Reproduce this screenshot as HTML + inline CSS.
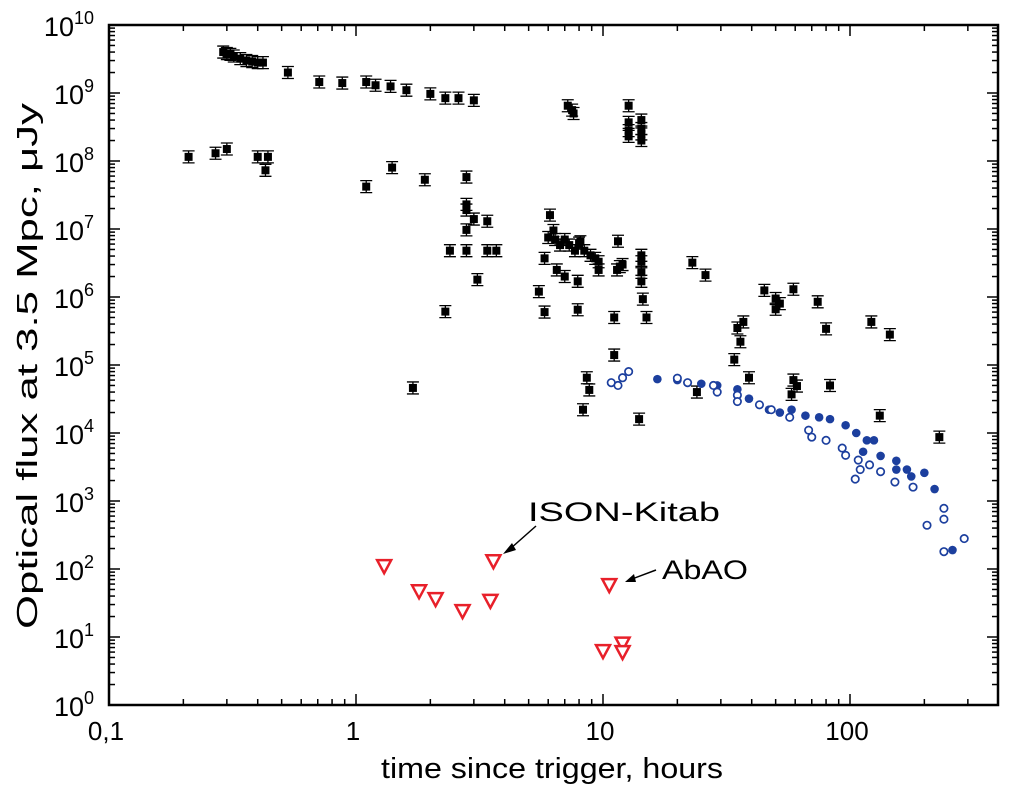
<!DOCTYPE html>
<html><head><meta charset="utf-8"><style>
body{margin:0;background:#fff;}
svg text{font-family:"Liberation Sans",sans-serif;}
</style></head><body>
<svg id="chart" width="1010" height="791" viewBox="0 0 1010 791" xmlns="http://www.w3.org/2000/svg">
<g id="ticks"></g>
<g id="marks"></g>
<rect x="109" y="25" width="889" height="680" fill="none" stroke="#000" stroke-width="2.5"/>
<text transform="translate(37,366) rotate(-90)" text-anchor="middle" font-size="29" textLength="526" lengthAdjust="spacingAndGlyphs">Optical flux at 3.5 Mpc, μJy</text>
<text x="552" y="778" text-anchor="middle" font-size="29" textLength="342" lengthAdjust="spacingAndGlyphs">time since trigger, hours</text>
<text x="528" y="521" font-size="27" textLength="192" lengthAdjust="spacingAndGlyphs">ISON-Kitab</text>
<line x1="536" y1="526" x2="510" y2="549" stroke="#000" stroke-width="1.5"/>
<polygon points="503,554 512,543 516,550" fill="#000"/>
<text x="662" y="579" font-size="27" textLength="86" lengthAdjust="spacingAndGlyphs">AbAO</text>
<line x1="656" y1="570" x2="632" y2="579" stroke="#000" stroke-width="1.5"/>
<polygon points="625,582 634,574 636,582" fill="#000"/>
</svg>
<script>
const xTickValues=[0.1,1,10,100];
const xTickLabels=["0,1","1","10","100"];
const yTickExps=[0,1,2,3,4,5,6,7,8,9,10];
const blackT=[0.29,0.3,0.31,0.32,0.34,0.36,0.38,0.4,0.42,0.53,0.71,0.88,1.1,1.2,1.38,1.6,2,2.3,2.6,3,7.2,7.5,7.6,12.7,12.7,12.7,12.7,14.3,14.3,14.3,14.3,
0.21,0.27,0.3,0.4,0.44,0.43,1.1,1.4,1.9,2.8,2.8,2.8,2.8,3,3.4,3.1,2.4,2.8,3.4,3.7,2.3,1.7,
6.1,6.3,6,6.4,6.7,7,7.3,7.7,8,8.4,8.9,9.3,9.6,5.8,6.5,7,7.9,9.6,5.8,7.9,8.1,5.5,11.5,11.4,12,11.7,11.1,11.1,
14.3,14.3,14.3,14.3,14.5,15,8.6,8.3,8.8,14,
23,26,24,37,36,34,35,39,45,50,52,50,59,59,61,58,74,80,83,122,145,132,230];
const blackF=[4e9,3.8e9,3.7e9,3.5e9,3.2e9,3e9,2.9e9,2.8e9,2.8e9,2e9,1.45e9,1.4e9,1.45e9,1.3e9,1.25e9,1.1e9,9.7e8,8.4e8,8.4e8,7.8e8,6.5e8,5.6e8,5e8,6.5e8,3.7e8,2.8e8,2.3e8,4e8,3e8,2.5e8,2e8,
1.15e8,1.3e8,1.5e8,1.15e8,1.15e8,7.3e7,4.2e7,8e7,5.3e7,5.8e7,2.3e7,1.9e7,9.7e6,1.4e7,1.3e7,1.8e6,4.8e6,4.8e6,4.8e6,4.8e6,6.1e5,4.6e4,
1.6e7,9.5e6,7.5e6,7e6,5.8e6,7e6,5.8e6,4.8e6,6.2e6,4.8e6,4.1e6,3.7e6,3.3e6,3.7e6,2.5e6,2e6,1.7e6,2.5e6,6e5,6.5e5,6.5e6,1.2e6,6.6e6,2.5e6,3e6,2.8e6,5e5,1.4e5,
4.1e6,3.3e6,2.3e6,1.7e6,9.3e5,5e5,6.5e4,2.2e4,4.3e4,1.6e4,
3.2e6,2.1e6,4e4,4.3e5,2.2e5,1.2e5,3.5e5,6.5e4,1.25e6,9.5e5,8e5,6.6e5,1.3e6,6e4,4.9e4,3.7e4,8.5e5,3.4e5,5e4,4.3e5,2.8e5,1.8e4,8.7e3];
const blueFilledT=[16.6,20,25,29,35,39,47,52,58,66,75,83,96,106,117,125,113,133,154,170,200,220,260,177,154];
const blueFilledF=[6.2e4,6e4,5.3e4,5e4,4.4e4,3.2e4,2.2e4,2e4,2.2e4,1.8e4,1.7e4,1.6e4,1.3e4,1e4,7.8e3,7.8e3,5.3e3,4.6e3,3.9e3,2.9e3,2.6e3,1.5e3,1.9e2,2.3e3,2.9e3];
const blueOpenT=[10.8,11.5,12,12.7,20,22,28,29,35,35,43,48,57,68,70,80,93,96,108,110,120,133,152,105,180,205,240,240,290,240];
const blueOpenF=[5.5e4,5e4,6.5e4,8e4,6.4e4,5.5e4,5e4,4e4,3.6e4,2.9e4,2.6e4,2.2e4,1.7e4,1.1e4,8.7e3,7.8e3,6e3,4.7e3,4e3,2.9e3,3.4e3,2.7e3,1.9e3,2.1e3,1.6e3,4.4e2,5.4e2,1.8e2,2.8e2,7.8e2];
const limitT=[1.3,1.8,2.1,2.7,3.5,3.6,10.6,10,12,12];
const limitF=[110,47,36,24,34,130,58,6.2,8,6];

const NS="http://www.w3.org/2000/svg";
const X0=109,DEC_X=247,Y0=705,DEC_Y=68,XR=998,YT=25;
function xs(t){return X0+(Math.log10(t)+1)*DEC_X;}
function ys(f){return Y0-Math.log10(f)*DEC_Y;}
function mk(tag,attrs,parent){const e=document.createElementNS(NS,tag);for(const k in attrs)e.setAttribute(k,attrs[k]);parent.appendChild(e);return e;}
const ticks=document.getElementById('ticks'),marks=document.getElementById('marks');
for(let d=-1;d<=2;d++){for(let m=1;m<=9;m++){const v=m*Math.pow(10,d);const x=xs(v);if(x>XR)break;const L=m===1?11:6;
 let l=mk('line',{x1:x,x2:x,y1:Y0,y2:Y0-L,stroke:'#000','stroke-width':1.5},ticks);
 
 
 l=mk('line',{x1:x,x2:x,y1:YT,y2:YT+L,stroke:'#000','stroke-width':1.5},ticks);
 
 }}
xTickValues.forEach((v,i)=>{const t=mk('text',{x:xs(v)-3,y:740,'text-anchor':'middle','font-size':26},ticks);t.textContent=xTickLabels[i];
 
 });
yTickExps.forEach(e=>{const y=ys(Math.pow(10,e));
 for(const side of [X0,XR]){const dir=side===X0?1:-1;
  let l=mk('line',{x1:side,x2:side+dir*11,y1:y,y2:y,stroke:'#000','stroke-width':1.5},ticks);
  
  
  if(e<10)for(let m=2;m<=9;m++){const yy=ys(m*Math.pow(10,e));
   l=mk('line',{x1:side,x2:side+dir*6,y1:yy,y2:yy,stroke:'#000','stroke-width':1.5},ticks);
   
   }}
 const t=mk('text',{x:94,y:y+11,'text-anchor':'end','font-size':27},ticks);
 t.innerHTML='10<tspan font-size="18" dy="-12">'+e+'</tspan>';
 
 });
blackT.forEach((t,i)=>{const x=xs(t),y=ys(blackF[i]);const g=mk('g',{},marks);
 
 
 const e=6;
 mk('path',{d:`M${x-6},${y-e}H${x+6}M${x},${y-e}V${y+e}M${x-6},${y+e}H${x+6}`,stroke:'#000','stroke-width':1.3,fill:'none'},g);
 mk('rect',{x:x-4,y:y-4,width:8,height:8,fill:'#000'},g);});
blueFilledT.forEach((t,i)=>{const c=mk('circle',{cx:xs(t),cy:ys(blueFilledF[i]),r:4.3,fill:'#1c3f9e'},marks);
 
 });
blueOpenT.forEach((t,i)=>{const c=mk('circle',{cx:xs(t),cy:ys(blueOpenF[i]),r:3.7,fill:'#fff',stroke:'#1c3f9e','stroke-width':1.7},marks);
 
 });
limitT.forEach((t,i)=>{const x=xs(t),y=ys(limitF[i]);
 const p=mk('polygon',{points:`${x-7},${y-6} ${x+7},${y-6} ${x},${y+7}`,fill:'#fff',stroke:'#e8202a','stroke-width':2.5},marks);
 
 });
</script>
</body></html>
